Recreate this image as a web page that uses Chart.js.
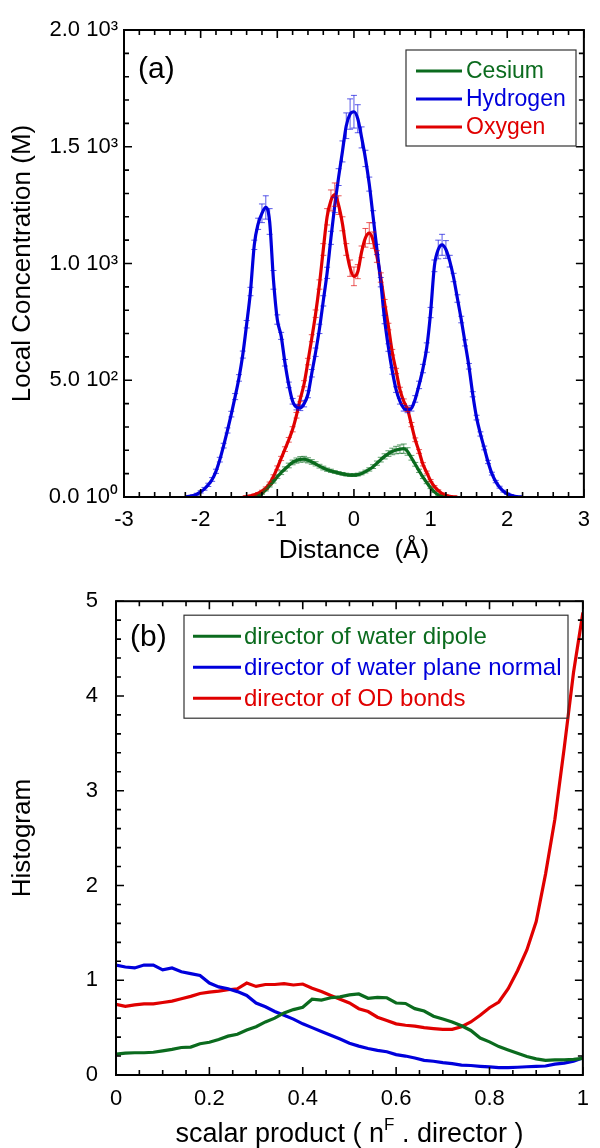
<!DOCTYPE html>
<html lang="en">
<head>
<meta charset="UTF-8">
<title>Local concentration and orientation histograms</title>
<script src="https://cdn.jsdelivr.net/npm/chart.js"></script>
<style>
  body { margin: 0; background: #fff; }
  .page { position: relative; width: 600px; height: 1148px; }
  #chartA { position: absolute; left: 0; top: 0; }
  #chartB { position: absolute; left: 0; top: 570px; }
</style>
</head>
<body>
<div class="page">
  <canvas id="chartA" width="600" height="570"></canvas>
  <canvas id="chartB" width="600" height="578"></canvas>
</div>

<script>
// ---- panel (a): local concentration vs distance ----
const distance = [-2.2,-2.15,-2.1,-2.05,-2,-1.95,-1.9,-1.85,-1.8,-1.75,-1.7,-1.65,-1.6,-1.55,-1.5,
  -1.45,-1.4,-1.35,-1.3,-1.25,-1.2,-1.15,-1.1,-1.05,-1,-0.95,-0.9,-0.85,-0.8,-0.75,-0.7,-0.65,-0.6,
  -0.55,-0.5,-0.45,-0.4,-0.35,-0.3,-0.25,-0.2,-0.15,-0.1,-0.05,0,0.05,0.1,0.15,0.2,0.25,0.3,0.35,
  0.4,0.45,0.5,0.55,0.6,0.65,0.7,0.75,0.8,0.85,0.9,0.95,1,1.05,1.1,1.15,1.2,1.25,1.3,1.35,1.4,1.45,
  1.5,1.55,1.6,1.65,1.7,1.75,1.8,1.85,1.9,1.95,2,2.05,2.1,2.15,2.2];

const hydrogen = [0,3,6,12,22,35,52,75,110,160,220,285,355,430,510,
  610,740,880,1080,1170,1215,1240,1180,930,760,690,575,480,410,385,382,400,440,
  530,620,720,840,960,1110,1250,1370,1480,1590,1640,1650,1620,1540,1450,1340,1200,1060,920,
  760,640,540,460,410,380,373,380,420,480,550,640,790,990,1060,1080,1060,1010,940,850,760,660,
  560,440,340,270,210,150,100,66,42,25,14,7,3,1,0];
const hydrogenErr = [2,3,3,4,5,6,7,8,9,10,10,11,12,13,14,
  15,16,18,20,24,40,50,55,40,20,15,14,12,12,12,12,14,15,
  16,18,20,22,24,28,32,36,45,55,65,70,60,45,35,30,26,22,20,
  18,16,14,12,12,12,12,12,14,16,18,20,22,25,40,45,38,25,18,16,14,13,
  12,11,10,9,8,7,6,5,4,4,3,3,2,2,1];

// oxygen starts at distance -1.45
const oxygenStart = 15;
const oxygen = [0,2,5,10,16,25,38,58,88,125,165,205,245,290,350,420,485,580,680,785,
  910,1060,1200,1270,1295,1250,1170,1060,980,945,965,1050,1110,1130,1100,1030,940,830,730,620,
  540,460,410,375,310,245,195,140,105,70,45,28,15,7,3,1,0];
const oxygenErr = [1,2,2,3,3,4,5,6,7,8,9,10,10,11,12,12,13,14,15,16,
  20,25,35,45,50,40,30,25,35,40,30,25,40,45,35,25,20,16,14,12,
  11,10,10,9,9,8,8,7,6,5,4,3,3,2,2,1,1];

// cesium starts at distance -1.30
const cesiumStart = 18;
const cesium = [0,5,15,30,48,66,87,104,120,135,148,156,161,162,157,150,142,132,124,117,
  112,107,103,99,96,94,94,96,101,109,118,130,145,160,174,186,195,201,205,207,
  195,168,140,112,85,62,40,22,9,2,0];
const cesiumErr = [1,2,3,4,5,6,7,8,9,10,10,11,12,12,11,10,9,8,8,7,
  7,6,6,6,6,6,6,6,6,6,7,8,9,10,11,12,14,16,18,20,
  16,10,8,7,6,5,4,3,2,2,1];

const distanceTicks = ['-3','-2','-1','0','1','2','3'];
const concTicks = ['0.0 10\u2070','5.0 10\u00b2','1.0 10\u00b3','1.5 10\u00b3','2.0 10\u00b3'];

// ---- panel (b): histograms vs scalar product ----
const scalar = [0,0.02,0.04,0.06,0.08,0.1,0.12,0.14,0.16,0.18,0.2,0.22,0.24,0.26,0.28,0.3,0.32,
  0.34,0.36,0.38,0.4,0.42,0.44,0.46,0.48,0.5,0.52,0.54,0.56,0.58,0.6,0.62,0.64,0.66,0.68,0.7,
  0.72,0.74,0.76,0.78,0.8,0.82,0.84,0.86,0.88,0.9,0.92,0.94,0.96,0.98,1];
const waterDipole = [0.22,0.23,0.235,0.235,0.24,0.255,0.27,0.29,0.295,0.33,0.345,0.375,0.41,
  0.43,0.475,0.51,0.56,0.6,0.655,0.69,0.715,0.8,0.79,0.815,0.825,0.845,0.855,0.81,0.82,0.815,
  0.76,0.755,0.7,0.675,0.62,0.59,0.56,0.52,0.47,0.39,0.35,0.3,0.265,0.23,0.195,0.17,0.155,
  0.16,0.16,0.165,0.175];
const planeNormal = [1.16,1.14,1.13,1.16,1.16,1.11,1.13,1.09,1.07,1.05,0.97,0.93,0.91,0.88,
  0.84,0.76,0.72,0.67,0.63,0.59,0.54,0.5,0.46,0.42,0.38,0.335,0.305,0.28,0.26,0.245,0.215,
  0.2,0.18,0.155,0.145,0.13,0.12,0.105,0.1,0.092,0.085,0.078,0.077,0.082,0.087,0.092,0.095,
  0.115,0.125,0.145,0.18];
const odBonds = [0.745,0.725,0.74,0.75,0.75,0.765,0.78,0.805,0.83,0.86,0.875,0.885,0.9,0.91,
  0.97,0.935,0.955,0.955,0.965,0.95,0.96,0.915,0.88,0.84,0.8,0.76,0.7,0.67,0.61,0.575,0.54,
  0.525,0.515,0.5,0.49,0.482,0.482,0.51,0.56,0.63,0.71,0.77,0.91,1.1,1.32,1.62,2.12,2.7,
  3.45,4.25,4.88];

const scalarTicks = ['0','0.2','0.4','0.6','0.8','1'];
const histTicks = ['0','1','2','3','4','5'];

const GREEN = '#0b6b1e';
const BLUE = '#0000dc';
const RED = '#e00000';
const FONT = "'Liberation Sans', Arial, sans-serif";

Chart.defaults.font.family = FONT;
Chart.defaults.color = '#000';

function points(xs, ys, start) {
  return ys.map((v, i) => ({ x: xs[start + i], y: v }));
}

// box frame with inward major/minor ticks on all four sides
const frameTicks = {
  id: 'frameTicks',
  afterDraw(chart, args, opts) {
    const { ctx, chartArea: a, scales: { x, y } } = chart;
    ctx.save();
    ctx.strokeStyle = '#000';
    ctx.lineWidth = 1.6;
    const run = (scale, minor, major, draw) => {
      const n = Math.round((scale.max - scale.min) / minor);
      for (let i = 0; i <= n; i++) {
        const v = scale.min + i * minor;
        const r = v / major;
        const isMajor = Math.abs(r - Math.round(r)) < 1e-6;
        draw(scale.getPixelForValue(v), isMajor ? 8 : 5);
      }
    };
    ctx.beginPath();
    run(x, opts.xMinor, opts.xMajor, (px, len) => {
      ctx.moveTo(px, a.bottom); ctx.lineTo(px, a.bottom - len);
      ctx.moveTo(px, a.top); ctx.lineTo(px, a.top + len);
    });
    run(y, opts.yMinor, opts.yMajor, (py, len) => {
      ctx.moveTo(a.left, py); ctx.lineTo(a.left + len, py);
      ctx.moveTo(a.right, py); ctx.lineTo(a.right - len, py);
    });
    ctx.stroke();
    ctx.lineWidth = 2;
    ctx.strokeRect(a.left, a.top, a.right - a.left, a.bottom - a.top);
    ctx.restore();
  }
};

// vertical error bars with caps
const errorBars = {
  id: 'errorBars',
  afterDatasetsDraw(chart) {
    const { ctx, scales: { x, y } } = chart;
    ctx.save();
    ctx.lineWidth = 1;
    chart.data.datasets.forEach(ds => {
      if (!ds.errors) return;
      ctx.strokeStyle = ds.errorColor;
      ctx.beginPath();
      ds.data.forEach((p, j) => {
        const e = ds.errors[j];
        if (!e) return;
        const px = x.getPixelForValue(p.x);
        const t = y.getPixelForValue(p.y + e);
        const b = y.getPixelForValue(p.y - e);
        ctx.moveTo(px, t); ctx.lineTo(px, b);
        ctx.moveTo(px - 3, t); ctx.lineTo(px + 3, t);
        ctx.moveTo(px - 3, b); ctx.lineTo(px + 3, b);
      });
      ctx.stroke();
    });
    ctx.restore();
  }
};

// framed legend inside the plot + panel letter
const boxLegend = {
  id: 'boxLegend',
  afterDraw(chart, args, o) {
    const { ctx, chartArea: a } = chart;
    ctx.save();
    ctx.strokeStyle = '#333';
    ctx.lineWidth = 1.2;
    ctx.strokeRect(a.left + o.x, a.top + o.y, o.w, o.h);
    ctx.font = o.fontSize + 'px ' + FONT;
    ctx.textBaseline = 'middle';
    chart.data.datasets.forEach((ds, i) => {
      const cy = a.top + o.y + o.first + i * o.row;
      ctx.strokeStyle = ds.borderColor;
      ctx.lineWidth = 3;
      ctx.beginPath();
      ctx.moveTo(a.left + o.x + o.lineX, cy);
      ctx.lineTo(a.left + o.x + o.lineX + o.lineW, cy);
      ctx.stroke();
      ctx.fillStyle = ds.borderColor;
      ctx.fillText(ds.label, a.left + o.x + o.textX, cy + 1);
    });
    ctx.fillStyle = '#000';
    ctx.font = o.tagSize + 'px ' + FONT;
    ctx.fillText(o.tag, a.left + o.tagX, a.top + o.tagY);
    ctx.restore();
  }
};

const lineStyle = { borderWidth: 3.2, pointRadius: 0, fill: false };

new Chart(document.getElementById('chartA'), {
  type: 'line',
  data: {
    datasets: [
      { label: 'Cesium', data: points(distance, cesium, cesiumStart), errors: cesiumErr,
        borderColor: GREEN, errorColor: 'rgba(11,107,30,0.65)', cubicInterpolationMode: 'monotone', ...lineStyle },
      { label: 'Hydrogen', data: points(distance, hydrogen, 0), errors: hydrogenErr,
        borderColor: BLUE, errorColor: 'rgba(0,0,220,0.65)', cubicInterpolationMode: 'monotone', ...lineStyle },
      { label: 'Oxygen', data: points(distance, oxygen, oxygenStart), errors: oxygenErr,
        borderColor: RED, errorColor: 'rgba(224,0,0,0.65)', cubicInterpolationMode: 'monotone', ...lineStyle }
    ]
  },
  options: {
    responsive: false,
    animation: false,
    devicePixelRatio: 1,
    layout: { padding: { top: 30, right: 7, left: 0, bottom: 0 } },
    plugins: {
      legend: { display: false },
      tooltip: { enabled: false },
      frameTicks: { xMinor: 0.2, xMajor: 1, yMinor: 100, yMajor: 500 },
      boxLegend: { x: 282, y: 20, w: 170, h: 96, first: 21, row: 28, lineX: 10, lineW: 46,
                   textX: 60, fontSize: 23, tag: '(a)', tagX: 14, tagY: 40, tagSize: 30 }
    },
    scales: {
      x: {
        type: 'linear', min: -3, max: 3,
        grid: { display: false, drawTicks: false }, border: { display: false },
        ticks: { stepSize: 1, padding: 10, font: { size: 22 }, callback: (v, i) => distanceTicks[i] },
        title: { display: true, text: 'Distance  (\u00c5)', font: { size: 26 }, padding: { top: 0, bottom: 4 } },
        afterFit: s => { s.height = 73; }
      },
      y: {
        min: 0, max: 2000,
        grid: { display: false, drawTicks: false }, border: { display: false },
        ticks: { stepSize: 500, padding: 6, font: { size: 22 }, callback: (v, i) => concTicks[i] },
        title: { display: true, text: 'Local Concentration (M)', font: { size: 26 }, padding: { top: 7, bottom: 0 } },
        afterFit: s => { s.width = 124; }
      }
    }
  },
  plugins: [errorBars, frameTicks, boxLegend]
});

// x title of panel (b) carries a superscript F
const superTitle = {
  id: 'superTitle',
  afterDraw(chart, args, o) {
    const { ctx, chartArea: a } = chart;
    ctx.save();
    ctx.fillStyle = '#000';
    ctx.textBaseline = 'alphabetic';
    const big = o.size + 'px ' + FONT, small = Math.round(o.size * 0.62) + 'px ' + FONT;
    ctx.font = big;
    const w1 = ctx.measureText(o.before).width, w3 = ctx.measureText(o.after).width;
    ctx.font = small;
    const w2 = ctx.measureText(o.sup).width;
    let px = (a.left + a.right) / 2 - (w1 + w2 + w3) / 2;
    const base = a.bottom + o.dy;
    ctx.font = big; ctx.fillText(o.before, px, base); px += w1;
    ctx.font = small; ctx.fillText(o.sup, px, base - o.size * 0.45); px += w2;
    ctx.font = big; ctx.fillText(o.after, px, base);
    ctx.restore();
  }
};

new Chart(document.getElementById('chartB'), {
  type: 'line',
  data: {
    datasets: [
      { label: 'director of water dipole', data: points(scalar, waterDipole, 0), borderColor: GREEN, tension: 0, ...lineStyle },
      { label: 'director of water plane normal', data: points(scalar, planeNormal, 0), borderColor: BLUE, tension: 0, ...lineStyle },
      { label: 'director of OD bonds', data: points(scalar, odBonds, 0), borderColor: RED, tension: 0, ...lineStyle }
    ]
  },
  options: {
    responsive: false,
    animation: false,
    devicePixelRatio: 1,
    layout: { padding: { top: 28, right: 8, left: 0, bottom: 0 } },
    plugins: {
      legend: { display: false },
      tooltip: { enabled: false },
      frameTicks: { xMinor: 0.05, xMajor: 0.2, yMinor: 0.2, yMajor: 1 },
      boxLegend: { x: 68, y: 14, w: 384, h: 103, first: 21, row: 31, lineX: 9, lineW: 48,
                   textX: 60, fontSize: 24, tag: '(b)', tagX: 14, tagY: 37, tagSize: 30 },
      superTitle: { before: 'scalar product ( n', sup: 'F', after: ' . director )', size: 27, dy: 67 }
    },
    scales: {
      x: {
        type: 'linear', min: 0, max: 1,
        grid: { display: false, drawTicks: false }, border: { display: false },
        ticks: { stepSize: 0.2, padding: 11, font: { size: 22 }, callback: (v, i) => scalarTicks[i] },
        afterFit: s => { s.height = 73; }
      },
      y: {
        min: 0, max: 5,
        grid: { display: false, drawTicks: false }, border: { display: false },
        ticks: { stepSize: 1, padding: 18, font: { size: 22 }, callback: (v, i) => histTicks[i] },
        title: { display: true, text: 'Histogram', font: { size: 26 }, padding: { top: 7, bottom: 0 } },
        afterFit: s => { s.width = 116; }
      }
    }
  },
  plugins: [frameTicks, boxLegend, superTitle]
});
</script>
</body>
</html>
